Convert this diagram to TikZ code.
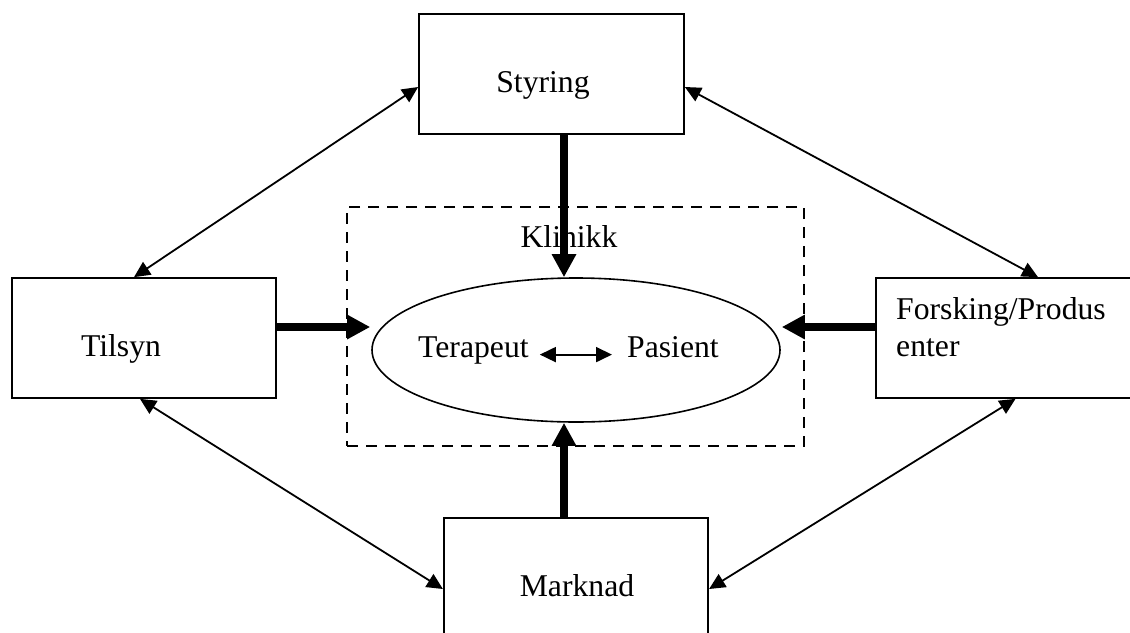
\documentclass[tikz,border=0pt]{standalone}
\usepackage{fontspec}
\setmainfont{Liberation Serif}
\usetikzlibrary{arrows.meta,shapes.geometric}
\begin{document}
\begin{tikzpicture}[x=1pt,y=-1pt,
  every node/.style={font=\fontsize{31.7}{37}\selectfont},
  box/.style={draw,line width=1.7pt,rectangle,minimum width=265pt,minimum height=120pt,inner sep=0pt},
  txt/.style={inner sep=0pt,text height=0.7em,text depth=0.22em},
  thickarrow/.style={line width=8pt,-{Triangle[width=23pt,length=23pt]}},
  thinarrow/.style={line width=1.8pt,{Triangle[width=15pt,length=16pt]}-{Triangle[width=15pt,length=16pt]}}
]
\useasboundingbox (0,0) rectangle (1130,632);
\clip (0,0) rectangle (1130,632);
% boxes
\node[box] (sty) at (551.5,74) {};
\node[box,minimum width=264pt] (til) at (144,338) {};
\node[box] (fors) at (1008.5,338) {};
\node[box,minimum width=264.5pt] (mark) at (576,578) {};
% clinic
\node[draw,dashed,line width=1.8pt,dash pattern=on 11pt off 8pt,minimum width=457pt,minimum height=239pt,inner sep=0pt] (kl) at (575.5,326.5) {};
\node[draw,ellipse,line width=1.6pt,minimum width=408pt,minimum height=144pt,inner sep=0pt] (ell) at (576,350) {};
% texts
\node[txt,anchor=base] (stytxt) at (543,92) {Styring};
\node[txt,anchor=base] (tiltxt) at (121,356) {Tilsyn};
\node[inner sep=0pt,anchor=base west,align=left] (forstxt) at (896,356) {Forsking/Produs\\enter};
\node[txt,anchor=base] (marktxt) at (577,596) {Marknad};
\node[txt,anchor=base] (kltxt) at (569,247) {Klinikk};
\node[txt,anchor=base west] (ter) at (418,357) {Terapeut};
\node[txt,anchor=base west] (pas) at (627,357) {Pasient};
% arrows
\draw[thinarrow] ([xshift=11pt]ter.east) -- ([xshift=-15pt]pas.west);
\draw[thickarrow] ([xshift=12.5pt]sty.south) -- ([xshift=12.5pt]sty.south |- ell.north);
\draw[thickarrow] ([xshift=-12pt]mark.north) -- ([xshift=-12pt]mark.north |- ell.south);
\draw[thickarrow] ([yshift=11pt]til.east) -- ([yshift=11pt,xshift=-1pt]til.east -| ell.west);
\draw[thickarrow] ([yshift=11pt]fors.west) -- ([yshift=11pt,xshift=1pt]fors.west -| ell.east);
\draw[thinarrow] ([yshift=-13pt]sty.west) -- ([xshift=-10pt]til.north);
\draw[thinarrow] ([yshift=-13pt]sty.east) -- ([xshift=29.5pt]fors.north);
\draw[thinarrow] ([xshift=-4pt]til.south) -- ([yshift=-11pt]mark.west);
\draw[thinarrow] ([xshift=7pt]fors.south) -- ([yshift=-11pt]mark.east);
\end{tikzpicture}
\end{document}
